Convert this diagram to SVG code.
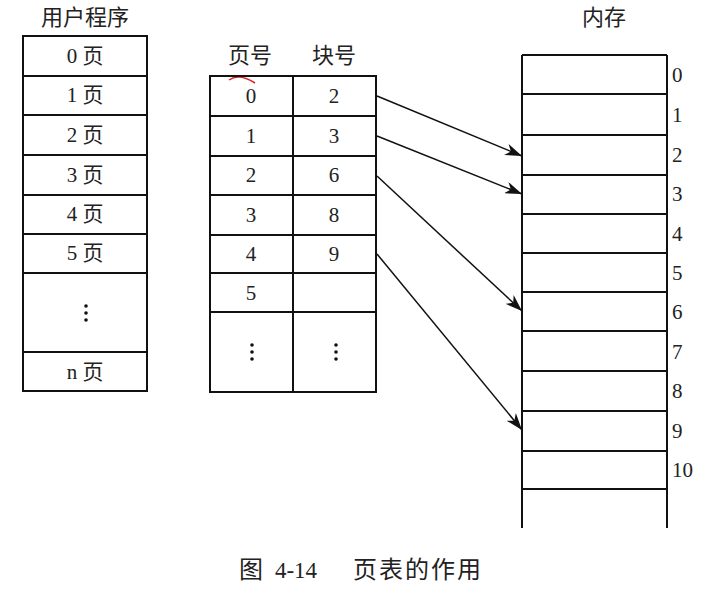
<svg xmlns="http://www.w3.org/2000/svg" width="709" height="601" viewBox="0 0 709 601">
<style>
.box{fill:none;stroke:#111;stroke-width:2}
.ln{stroke:#111;stroke-width:2}
.t{font-family:"Liberation Serif","Noto Sans CJK SC",serif;font-size:21px;fill:#222;text-anchor:middle}
.h{font-family:"Liberation Serif","Noto Sans CJK SC",serif;font-size:22px;fill:#222;text-anchor:middle}
.m{font-family:"Liberation Serif",serif;font-size:21px;fill:#222;text-anchor:start}
.dot{fill:#111}
.arr{stroke:#111;stroke-width:1.5;fill:none;marker-end:url(#ah)}
</style>
<defs>
<marker id="ah" markerUnits="userSpaceOnUse" markerWidth="18" markerHeight="12" refX="17" refY="6" orient="auto">
<path d="M0,0 L17,6 L0,12 L5,6 z" fill="#111"/>
</marker>
</defs>
<rect width="709" height="601" fill="#fff"/>

<g id="user-program">
<text class="h" x="85" y="25">用户程序</text>
<rect class="box" x="23" y="36" width="124" height="355"/>
<line class="ln" x1="23" y1="76" x2="147" y2="76"/>
<line class="ln" x1="23" y1="115" x2="147" y2="115"/>
<line class="ln" x1="23" y1="155" x2="147" y2="155"/>
<line class="ln" x1="23" y1="195" x2="147" y2="195"/>
<line class="ln" x1="23" y1="234" x2="147" y2="234"/>
<line class="ln" x1="23" y1="273" x2="147" y2="273"/>
<line class="ln" x1="23" y1="352" x2="147" y2="352"/>
<text class="t" x="85" y="63">0 页</text>
<text class="t" x="85" y="102">1 页</text>
<text class="t" x="85" y="142">2 页</text>
<text class="t" x="85" y="182">3 页</text>
<text class="t" x="85" y="221">4 页</text>
<text class="t" x="85" y="260">5 页</text>
<circle class="dot" cx="86" cy="306" r="1.8"/>
<circle class="dot" cx="86" cy="313" r="1.8"/>
<circle class="dot" cx="86" cy="320" r="1.8"/>
<text class="t" x="85" y="379">n 页</text>
</g>

<g id="page-table">
<text class="h" x="250" y="63">页号</text>
<text class="h" x="334" y="63">块号</text>
<path d="M229,80 Q239,73 255,83" fill="none" stroke="#e02020" stroke-width="1.5"/>
<rect class="box" x="210" y="76" width="166" height="316"/>
<line class="ln" x1="293" y1="76" x2="293" y2="392"/>
<line class="ln" x1="210" y1="116" x2="376" y2="116"/>
<line class="ln" x1="210" y1="156" x2="376" y2="156"/>
<line class="ln" x1="210" y1="195" x2="376" y2="195"/>
<line class="ln" x1="210" y1="235" x2="376" y2="235"/>
<line class="ln" x1="210" y1="273" x2="376" y2="273"/>
<line class="ln" x1="210" y1="312" x2="376" y2="312"/>
<text class="t" x="251" y="103">0</text>
<text class="t" x="251" y="143">1</text>
<text class="t" x="251" y="182">2</text>
<text class="t" x="251" y="222">3</text>
<text class="t" x="251" y="261">4</text>
<text class="t" x="251" y="300">5</text>
<text class="t" x="334" y="103">2</text>
<text class="t" x="334" y="143">3</text>
<text class="t" x="334" y="182">6</text>
<text class="t" x="334" y="222">8</text>
<text class="t" x="334" y="261">9</text>
<circle class="dot" cx="252" cy="345" r="1.8"/>
<circle class="dot" cx="252" cy="352" r="1.8"/>
<circle class="dot" cx="252" cy="359" r="1.8"/>
<circle class="dot" cx="336" cy="345" r="1.8"/>
<circle class="dot" cx="336" cy="352" r="1.8"/>
<circle class="dot" cx="336" cy="359" r="1.8"/>
</g>

<g id="memory">
<text class="h" x="604" y="25">内存</text>
<line class="ln" x1="522" y1="55" x2="667" y2="55"/>
<line class="ln" x1="522" y1="55" x2="522" y2="528"/>
<line class="ln" x1="667" y1="55" x2="667" y2="528"/>
<line class="ln" x1="522" y1="94" x2="667" y2="94"/>
<line class="ln" x1="522" y1="135" x2="667" y2="135"/>
<line class="ln" x1="522" y1="175" x2="667" y2="175"/>
<line class="ln" x1="522" y1="214" x2="667" y2="214"/>
<line class="ln" x1="522" y1="253" x2="667" y2="253"/>
<line class="ln" x1="522" y1="292" x2="667" y2="292"/>
<line class="ln" x1="522" y1="331" x2="667" y2="331"/>
<line class="ln" x1="522" y1="371" x2="667" y2="371"/>
<line class="ln" x1="522" y1="411" x2="667" y2="411"/>
<line class="ln" x1="522" y1="451" x2="667" y2="451"/>
<line class="ln" x1="522" y1="489" x2="667" y2="489"/>
<text class="m" x="672" y="82">0</text>
<text class="m" x="672" y="122">1</text>
<text class="m" x="672" y="162">2</text>
<text class="m" x="672" y="201">3</text>
<text class="m" x="672" y="241">4</text>
<text class="m" x="672" y="280">5</text>
<text class="m" x="672" y="319">6</text>
<text class="m" x="672" y="359">7</text>
<text class="m" x="672" y="398">8</text>
<text class="m" x="672" y="438">9</text>
<text class="m" x="672" y="477">10</text>
</g>

<g id="connectors">
<line class="arr" x1="377" y1="96" x2="522" y2="156"/>
<line class="arr" x1="377" y1="136" x2="522" y2="194"/>
<line class="arr" x1="377" y1="176" x2="522" y2="311"/>
<line class="arr" x1="377" y1="254" x2="522" y2="430"/>
</g>

<g id="caption">
<text class="h" x="251" y="578" style="font-size:24px">图</text>
<text class="t" x="296" y="578" style="font-size:23px">4-14</text>
<text class="h" x="418" y="578" style="font-size:24px;letter-spacing:2px">页表的作用</text>
</g>
</svg>
